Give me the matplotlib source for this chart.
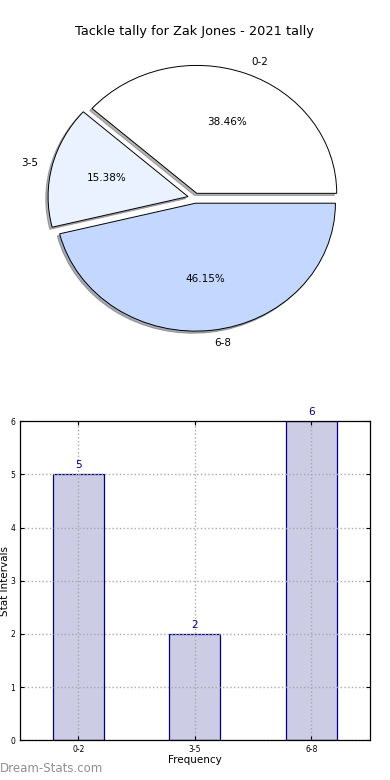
import numpy as np
import matplotlib
matplotlib.use("Agg")
import matplotlib.pyplot as plt

# tackle tally data
intervals = ["0-2", "3-5", "6-8"]
counts = [5, 2, 6]
pie_colours = ["#FFFFFF", "#EBF2FF", "#C4D8FF"]
title = "Tackle tally for Zak Jones - 2021 tally"

fig = plt.figure(figsize=(3.9, 7.8), dpi=100)

# pie on top
ax1 = fig.add_axes([0.051, 0.541, 0.897, 0.41])
wedges, texts, autotexts = ax1.pie(
    counts,
    labels=intervals,
    colors=pie_colours,
    explode=(0.04, 0.05, 0.04),
    autopct="%.2f%%",
    shadow={"ox": -0.012, "oy": -0.012, "shade": 0.6},
    startangle=0,
    wedgeprops={"edgecolor": "black", "linewidth": 0.7},
    textprops={"fontsize": 7.5},
)
ax1.set_aspect("auto")
ax1.set_title(title, fontsize=9.3, pad=2)

# bar chart below
ax2 = fig.add_axes([0.051, 0.051, 0.897, 0.409])
x = np.arange(len(intervals))
bars = ax2.bar(x, counts, width=0.44, color="#CCCCE5", edgecolor="#000080", linewidth=0.9)
for xi, c in zip(x, counts):
    ax2.text(xi, c + 0.08, str(c), ha="center", va="bottom", color="#000080", fontsize=7.5)

ax2.set_xlim(-0.5, 2.5)
ax2.set_ylim(0, 6)
ax2.set_xticks(x)
ax2.set_xticklabels(intervals)
ax2.set_yticks(range(7))
ax2.tick_params(direction="in", top=True, right=True, labelsize=5.5, length=3, width=0.8)
ax2.grid(True, linestyle=":", color="#AAAAAA", linewidth=1.0)
ax2.set_axisbelow(False)
ax2.yaxis.get_gridlines()[-1].set_visible(False)
ax2.set_xlabel("Frequency", fontsize=7.5, labelpad=1)
ax2.set_ylabel("Stat Intervals", fontsize=7.5, labelpad=0)
for s in ax2.spines.values():
    s.set_linewidth(0.9)
    s.set_zorder(3)

fig.text(0.0, 0.006, "Dream-Stats.com", color="#8F8F8F", fontsize=8.5, ha="left", va="bottom")

fig.savefig("out.png", dpi=100)
